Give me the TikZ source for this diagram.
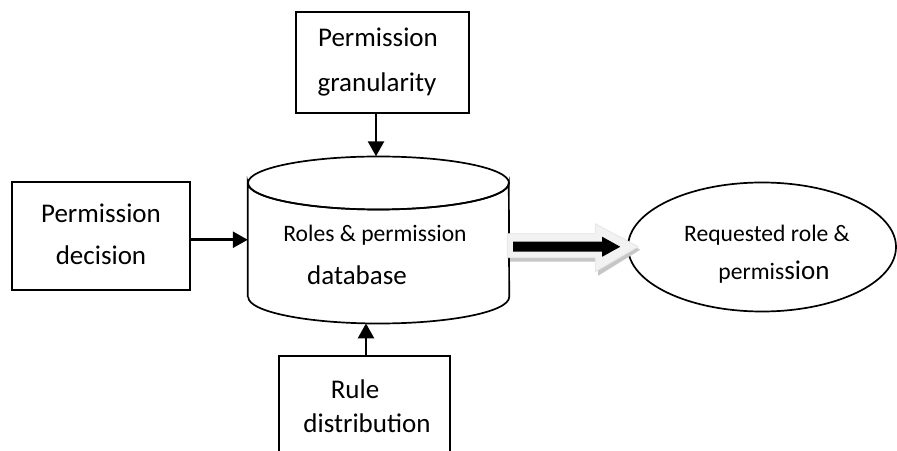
\documentclass[tikz,border=0pt]{standalone}
\usepackage{fontspec}
\setmainfont{Carlito}
\usetikzlibrary{arrows.meta,shapes.geometric,calc}
\begin{document}
\begin{tikzpicture}[x=1pt,y=1pt,
  box/.style={draw,line width=1.7pt,inner sep=0pt},
  txt/.style={anchor=base,inner sep=0pt,font=\fontsize{27}{32}\selectfont},
  stxt/.style={anchor=base,inner sep=0pt,font=\fontsize{23.6}{28}\selectfont},
  link/.style={line width=2.6pt,-{Triangle[length=15pt,width=16pt]}}]
\useasboundingbox (0,0) rectangle (897,450);
\clip (0,0) rectangle (897,450);

% input boxes
\node[box,minimum width=173pt,minimum height=101pt] (gran) at (382.5,387.5) {};
\node[txt] (gran1) at (378,403) {Permission};
\node[txt] (gran2) at (377,358) {granularity};

\node[box,minimum width=178pt,minimum height=108pt] (dec) at (101,214) {};
\node[txt] (dec1) at (101,227) {Permission};
\node[txt] (dec2) at (101,185) {decision};

\node[box,minimum width=171pt,minimum height=130pt] (rule) at (364.5,29) {};
\node[txt] (rule1) at (355,52) {Rule};
\node[txt] (rule2) at (367,18) {distribution};

% database cylinder
\node[inner sep=0pt,minimum width=261pt,minimum height=166.5pt] (db) at (378.5,210.25) {};
\draw[line width=1.7pt,fill=white] (db.west |- 0,153) -- (db.west |- 0,267)
  arc[start angle=180,end angle=360,x radius=130.5,y radius=26.5]
  -- (db.east |- 0,153) arc[start angle=0,end angle=-180,x radius=130.5,y radius=26.5];
\draw[line width=1.7pt] (378.5,267) ellipse[x radius=130.5,y radius=26.5];
\node[stxt] (db1) at (375,208) {Roles \& permission};
\node[txt] (db2) at (357,165) {database};

% output ellipse
\node[draw,ellipse,line width=1.7pt,inner sep=0pt,minimum width=268pt,minimum height=129pt] (req) at (762,203) {};
\node[stxt] (req1) at (767,208) {Requested role \&};
\node[stxt] (req2) at (774,170) {permis{\fontsize{27}{32}\selectfont sion}};

% connectors
\draw[link] ([xshift=-6.5pt]gran.south) -- ([xshift=-6.5pt]gran.south |- db.north);
\draw[link] (dec.east |- db.west) -- (db.west);
\draw[link] ([xshift=1.5pt]rule.north) -- ([xshift=1.5pt]rule.north |- 0,126.6);

% block arrow from database to request
\begin{scope}[shift={(db.east)}]
  \fill[gray!45] (1,-22) -- (89,-22) -- (89,-36) -- (131,-10) -- (89,12) -- (89,-18) -- (1,-18) -- cycle;
  \filldraw[fill=gray!10,draw=gray!20,line width=0.8pt]
    (-2,6) -- (86,6) -- (86,16) -- (129,-7) -- (86,-32) -- (86,-18) -- (-2,-18) -- cycle;
  \fill[black] (4,-2) -- (93,-2) -- (93,3) -- (111,-7) -- (93,-17) -- (93,-12) -- (4,-12) -- cycle;
\end{scope}
\end{tikzpicture}
\end{document}
